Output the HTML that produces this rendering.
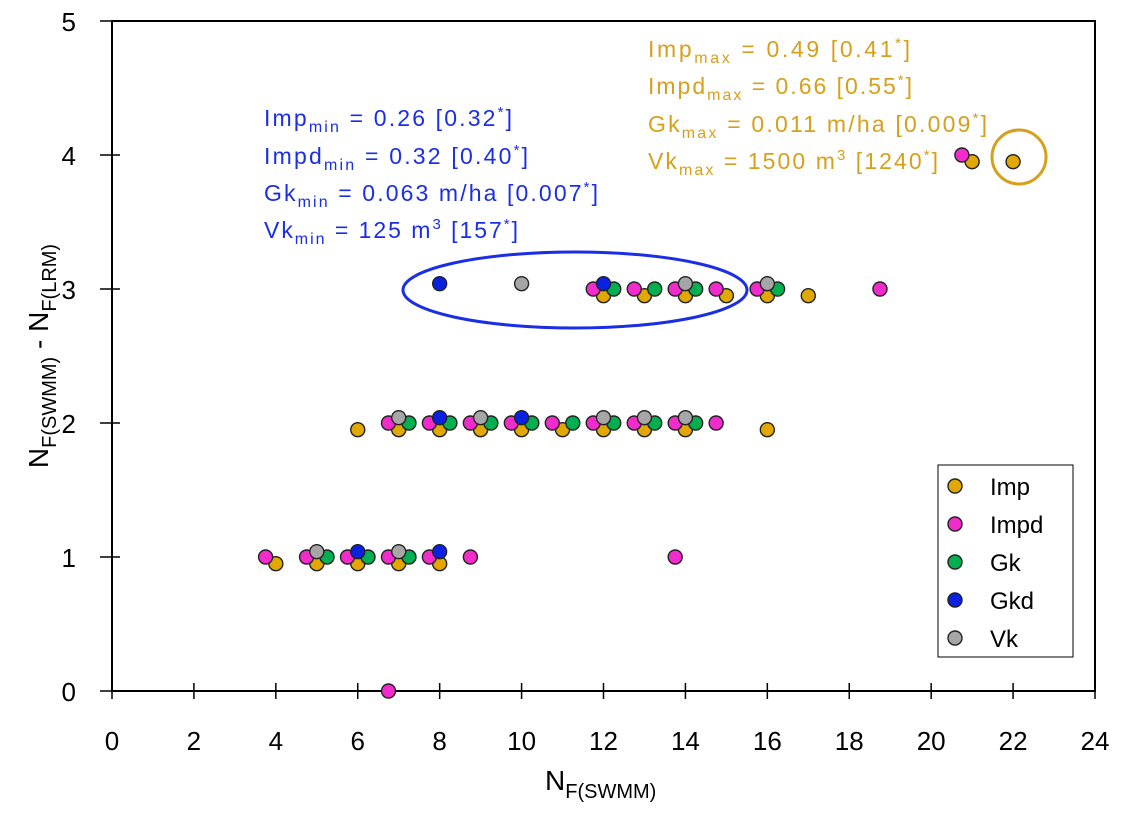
<!DOCTYPE html>
<html><head><meta charset="utf-8"><style>
body{margin:0;background:#fff}
svg text{font-family:"Liberation Sans",sans-serif}
</style></head><body>
<svg id="chart" width="1131" height="816" xmlns="http://www.w3.org/2000/svg">
<rect x="112" y="21" width="983" height="670" fill="#fff" stroke="#000" stroke-width="2"/>
<g id="axes"></g>
<g id="pts"></g>
<ellipse cx="575" cy="290" rx="172" ry="38" fill="none" stroke="#1a2ee6" stroke-width="3"/>
<circle cx="1019" cy="157" r="27" fill="none" stroke="#d6a01c" stroke-width="3"/>
<g font-size="23" fill="#1a2ee6">
<text x="264" y="126" textLength="248" lengthAdjust="spacing">Imp<tspan font-size="16" dy="6">min</tspan><tspan dy="-6"> = 0.26 [0.32</tspan><tspan font-size="15" dy="-9">*</tspan><tspan dy="9">]</tspan></text>
<text x="264" y="164" textLength="264" lengthAdjust="spacing">Impd<tspan font-size="16" dy="6">min</tspan><tspan dy="-6"> = 0.32 [0.40</tspan><tspan font-size="15" dy="-9">*</tspan><tspan dy="9">]</tspan></text>
<text x="264" y="201" textLength="334" lengthAdjust="spacing">Gk<tspan font-size="16" dy="6">min</tspan><tspan dy="-6"> = 0.063 m/ha [0.007</tspan><tspan font-size="15" dy="-9">*</tspan><tspan dy="9">]</tspan></text>
<text x="264" y="238" textLength="254" lengthAdjust="spacing">Vk<tspan font-size="16" dy="6">min</tspan><tspan dy="-6"> = 125 m</tspan><tspan font-size="15" dy="-9">3</tspan><tspan dy="9"> [157</tspan><tspan font-size="15" dy="-9">*</tspan><tspan dy="9">]</tspan></text>
</g>
<g font-size="23" fill="#d6a01c">
<text x="648" y="57" textLength="262" lengthAdjust="spacing">Imp<tspan font-size="16" dy="6">max</tspan><tspan dy="-6"> = 0.49 [0.41</tspan><tspan font-size="15" dy="-9">*</tspan><tspan dy="9">]</tspan></text>
<text x="648" y="94" textLength="264" lengthAdjust="spacing">Impd<tspan font-size="16" dy="6">max</tspan><tspan dy="-6"> = 0.66 [0.55</tspan><tspan font-size="15" dy="-9">*</tspan><tspan dy="9">]</tspan></text>
<text x="648" y="132" textLength="339" lengthAdjust="spacing">Gk<tspan font-size="16" dy="6">max</tspan><tspan dy="-6"> = 0.011 m/ha [0.009</tspan><tspan font-size="15" dy="-9">*</tspan><tspan dy="9">]</tspan></text>
<text x="648" y="169" textLength="290" lengthAdjust="spacing">Vk<tspan font-size="16" dy="6">max</tspan><tspan dy="-6"> = 1500 m</tspan><tspan font-size="15" dy="-9">3</tspan><tspan dy="9"> [1240</tspan><tspan font-size="15" dy="-9">*</tspan><tspan dy="9">]</tspan></text>
</g>
<g>
<rect x="938" y="465" width="135" height="192" fill="#fff" stroke="#000" stroke-width="1"/>
<g id="leg"></g>
</g>
<text x="545" y="790" font-size="28">N<tspan font-size="20" dy="8">F(SWMM)</tspan></text>
<text transform="translate(48,356) rotate(-90)" font-size="28" text-anchor="middle">N<tspan font-size="20" dy="8">F(SWMM)</tspan><tspan dy="-8"> - N</tspan><tspan font-size="20" dy="8">F(LRM)</tspan></text>
</svg>
<script>
const seriesNames=["Imp","Impd","Gk","Gkd","Vk"];
const colors={Imp:"#e0a800",Impd:"#f22ccc",Gk:"#00b050",Gkd:"#0a22e0",Vk:"#a6a6a6"};
const impX=[4,5,6,7,8,6,7,8,9,10,11,12,13,14,16,12,13,14,15,16,17,21,22];
const impY=[1,1,1,1,1,2,2,2,2,2,2,2,2,2,2,3,3,3,3,3,3,4,4];
const impdX=[7,4,5,6,7,8,9,14,7,8,9,10,11,12,13,14,15,12,13,14,15,16,19,21];
const impdY=[0,1,1,1,1,1,1,1,2,2,2,2,2,2,2,2,2,3,3,3,3,3,3,4];
const gkX=[5,6,7,7,8,9,10,11,12,13,14,12,13,14,16];
const gkY=[1,1,1,2,2,2,2,2,2,2,2,3,3,3,3];
const gkdX=[6,8,8,10,8,12];
const gkdY=[1,1,2,2,3,3];
const vkX=[5,7,7,9,12,13,14,10,14,16];
const vkY=[1,1,2,2,2,2,2,3,3,3];
const offs={Imp:[0,-0.05],Impd:[-0.25,0],Gk:[0.25,0],Gkd:[0,0.04],Vk:[0,0.04]};
const xTicks=[0,2,4,6,8,10,12,14,16,18,20,22,24];
const yTicks=[0,1,2,3,4,5];
const sx=v=>112+v*983/24, sy=v=>691-v*134;
const NS="http://www.w3.org/2000/svg";
const ax=document.getElementById('axes');
xTicks.forEach(t=>{
 const l=document.createElementNS(NS,'line');l.setAttribute('x1',sx(t));l.setAttribute('x2',sx(t));l.setAttribute('y1',683);l.setAttribute('y2',699);l.setAttribute('stroke','#000');l.setAttribute('stroke-width','1.5');
 
 ax.appendChild(l);
 const tx=document.createElementNS(NS,'text');tx.setAttribute('x',sx(t));tx.setAttribute('y',750);tx.setAttribute('font-size','26');tx.setAttribute('text-anchor','middle');tx.textContent=t;
 
 ax.appendChild(tx);
});
yTicks.forEach(t=>{
 const l=document.createElementNS(NS,'line');l.setAttribute('x1',100);l.setAttribute('x2',120);l.setAttribute('y1',sy(t));l.setAttribute('y2',sy(t));l.setAttribute('stroke','#000');l.setAttribute('stroke-width','1.5');
 
 ax.appendChild(l);
 const tx=document.createElementNS(NS,'text');tx.setAttribute('x',76);tx.setAttribute('y',sy(t)+10);tx.setAttribute('font-size','26');tx.setAttribute('text-anchor','end');tx.textContent=t;
 
 ax.appendChild(tx);
});
const pts=document.getElementById('pts');
function draw(name,xs,ys){xs.forEach((x,i)=>{
 const c=document.createElementNS(NS,'circle');
 c.setAttribute('cx',sx(x+offs[name][0]));c.setAttribute('cy',sy(ys[i]+offs[name][1]));c.setAttribute('r',7);
 c.setAttribute('fill',colors[name]);c.setAttribute('stroke','#222');c.setAttribute('stroke-width','1.4');
 
 pts.appendChild(c);});}
draw('Imp',impX,impY);draw('Impd',impdX,impdY);draw('Gk',gkX,gkY);draw('Gkd',gkdX,gkdY);draw('Vk',vkX,vkY);
const leg=document.getElementById('leg');
seriesNames.forEach((n,i)=>{
 const y=486+i*38;
 const c=document.createElementNS(NS,'circle');c.setAttribute('cx',955);c.setAttribute('cy',y);c.setAttribute('r',7);c.setAttribute('fill',colors[n]);c.setAttribute('stroke','#222');c.setAttribute('stroke-width','1.4');
 
 leg.appendChild(c);
 const t=document.createElementNS(NS,'text');t.setAttribute('x',990);t.setAttribute('y',y+9);t.setAttribute('font-size','24');t.textContent=n;
 
 leg.appendChild(t);
});
</script>
</body></html>
